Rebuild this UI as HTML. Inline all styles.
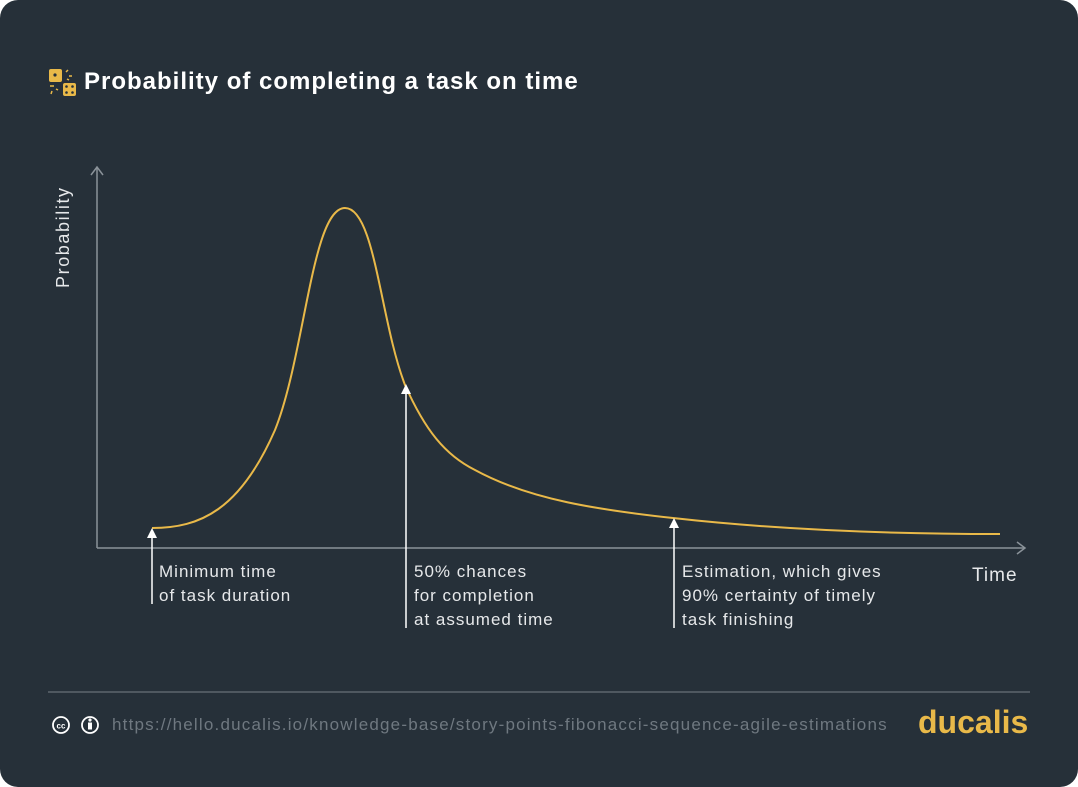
<!DOCTYPE html>
<html><head><style>
body{margin:0;background:#fff;}
.card{position:absolute;left:0;top:0;width:1078px;height:787px;background:#263039;border-radius:18px;overflow:hidden;font-family:"Liberation Sans",sans-serif;}
.t{position:absolute;color:#fff;}
</style></head><body>
<div class="card">
<svg width="1078" height="787" style="position:absolute;left:0;top:0">
<rect x="49" y="69" width="13" height="13" rx="2" fill="#e9b949"/>
<circle cx="55" cy="75" r="1.6" fill="#263039"/>
<rect x="63" y="83" width="13" height="13" rx="2" fill="#e9b949"/>
<circle cx="66.5" cy="86.5" r="1.3" fill="#263039"/><circle cx="72.5" cy="86.5" r="1.3" fill="#263039"/>
<circle cx="66.5" cy="92.5" r="1.3" fill="#263039"/><circle cx="72.5" cy="92.5" r="1.3" fill="#263039"/>
<g stroke="#e9b949" stroke-width="1.5"><line x1="66" y1="72" x2="68" y2="70"/><line x1="69" y1="76" x2="72" y2="76"/><line x1="67" y1="79" x2="69" y2="80"/><line x1="50" y1="86" x2="54" y2="86"/><line x1="52" y1="91" x2="51" y2="94"/><line x1="56" y1="89" x2="58" y2="90"/></g>
<g stroke="#8a9299" stroke-width="1.5" fill="none">
<line x1="97" y1="168" x2="97" y2="548"/><polyline points="91,175 97,167 103,175"/>
<line x1="97" y1="548" x2="1024" y2="548"/><polyline points="1017,542 1025,548 1017,554"/>
</g>
<path d="M152,528 C200,528 240,510 275,430 C305,355 312,208 345,208 C375,208 380,320 405,385 C425,430 445,455 475,470 C530,500 600,510 673,518 C780,530 900,534 1000,534" fill="none" stroke="#e9b949" stroke-width="2"/>
<g stroke="#fff" stroke-width="1.5"><line x1="152" y1="534" x2="152" y2="604"/><line x1="406" y1="390" x2="406" y2="628"/><line x1="674" y1="524" x2="674" y2="628"/></g>
<g fill="#fff"><polygon points="147,538 152,528 157,538"/><polygon points="401,394 406,384 411,394"/><polygon points="669,528 674,518 679,528"/></g>
<line x1="48" y1="692" x2="1030" y2="692" stroke="#5d666e" stroke-width="1.5"/>
<g stroke="#fff" stroke-width="1.8" fill="none"><circle cx="61" cy="725" r="8"/><circle cx="90" cy="725" r="8"/></g>
<text x="61" y="728.5" font-size="8" font-weight="bold" fill="#fff" text-anchor="middle" font-family="Liberation Sans">cc</text>
<circle cx="90" cy="720" r="1.6" fill="#fff"/><rect x="88" y="722.5" width="4" height="7" fill="#fff"/>
</svg>
<div class="t" style="left:84px;top:68px;font-size:24px;font-weight:bold;letter-spacing:1px;">Probability of completing a task on time</div>
<div class="t" style="left:53px;top:288px;font-size:18px;letter-spacing:1.6px;color:#e6e8ea;transform:rotate(-90deg);transform-origin:0 0;">Probability</div>
<div class="t" style="left:972px;top:565px;font-size:19px;letter-spacing:1px;color:#e6e8ea;">Time</div>
<div class="t" style="left:159px;top:560px;font-size:17px;line-height:24px;letter-spacing:1px;color:#e6e8ea;">Minimum time<br>of task duration</div>
<div class="t" style="left:414px;top:560px;font-size:17px;line-height:24px;letter-spacing:1px;color:#e6e8ea;">50% chances<br>for completion<br>at assumed time</div>
<div class="t" style="left:682px;top:560px;font-size:17px;line-height:24px;letter-spacing:1px;color:#e6e8ea;">Estimation, which gives<br>90% certainty of timely<br>task finishing</div>
<div class="t" style="left:112px;top:715px;font-size:17px;letter-spacing:1.2px;color:#6f7880;white-space:nowrap;">https://hello.ducalis.io/knowledge-base/story-points-fibonacci-sequence-agile-estimations</div>
<div class="t" style="left:918px;top:704px;font-size:32px;font-weight:bold;color:#e9b949;">ducalis</div>
</div>
</body></html>
